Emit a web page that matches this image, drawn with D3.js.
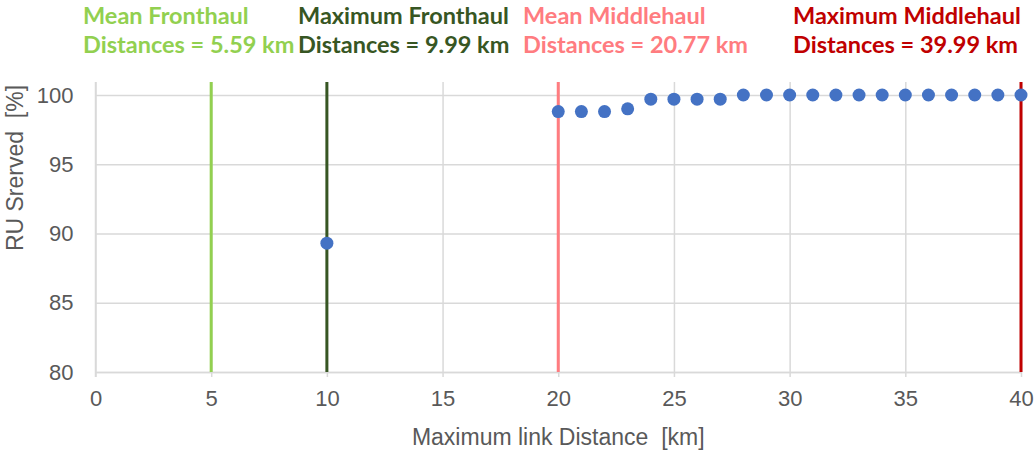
<!DOCTYPE html>
<html>
<head>
<meta charset="utf-8">
<script src="https://cdn.jsdelivr.net/npm/d3@7"></script>
<style>
  html, body { margin: 0; padding: 0; background: #ffffff; }
  svg { display: block; }
</style>
</head>
<body>
<svg id="chart" width="1034" height="450"></svg>
<script>
// ---- data ----
const xTicks = [0, 5, 10, 15, 20, 25, 30, 35, 40];
const yTicks = [80, 85, 90, 95, 100];
const distances = [10, 20, 21, 22, 23, 24, 25, 26, 27, 28, 29, 30, 31, 32, 33, 34, 35, 36, 37, 38, 39, 40];
const served = [89.3, 98.8, 98.8, 98.8, 99.0, 99.7, 99.7, 99.7, 99.7, 100, 100, 100, 100, 100, 100, 100, 100, 100, 100, 100, 100, 100];
const refX = [5, 10, 20, 40];
const refTitle = ["Mean Fronthaul", "Maximum Fronthaul", "Mean Middlehaul", "Maximum Middlehaul"];
const refValue = ["Distances = 5.59 km", "Distances = 9.99 km", "Distances = 20.77 km", "Distances = 39.99 km"];
const refColor = ["#92D050", "#375623", "#FF7C80", "#C00000"];
const xTitle = "Maximum link Distance  [km]";
const yTitle = "RU Srerved  [%]";

// ---- layout ----
const plotL = 95.5, plotR = 1021, plotT = 82, plotB = 372;
const labelLeft = [83, 298, 523, 793];

const svg = d3.select("#chart");
const x = d3.scaleLinear().domain([0, 40]).range([plotL, plotR]);
const y = d3.scaleLinear().domain([80, 100]).range([plotB, 95]);

const textColor = "#595959";
const gridColor = "#d9d9d9";

// vertical grid + x ticks
const gx = svg.append("g")
  .attr("transform", `translate(0,${plotB})`)
  .call(d3.axisBottom(x).tickValues(xTicks).tickSizeInner(-(plotB - plotT)).tickSizeOuter(0).tickPadding(18));
gx.select(".domain").attr("stroke", gridColor).attr("stroke-width", 1.5);
gx.selectAll(".tick line").attr("stroke", gridColor).attr("stroke-width", 1.5).attr("y1", 5);
gx.selectAll(".tick text")
  .attr("fill", textColor)
  .style("font-family", "'Liberation Sans', Arial, sans-serif")
  .style("font-size", "22px");

// horizontal grid + y ticks
const gy = svg.append("g")
  .attr("transform", `translate(${plotL},0)`)
  .call(d3.axisLeft(y).tickValues(yTicks).tickSizeInner(-(plotR - plotL)).tickSizeOuter(0).tickPadding(22));
gy.select(".domain").remove();
gy.selectAll(".tick line").attr("stroke", gridColor).attr("stroke-width", 1.5);
gy.selectAll(".tick text")
  .attr("fill", textColor)
  .style("font-family", "'Liberation Sans', Arial, sans-serif")
  .style("font-size", "22px");

// left axis line
svg.append("line")
  .attr("x1", plotL).attr("x2", plotL)
  .attr("y1", plotT).attr("y2", plotB + 5)
  .attr("stroke", gridColor).attr("stroke-width", 1.5);

// reference lines
svg.append("g").selectAll("line")
  .data(refX)
  .join("line")
  .attr("x1", d => x(d)).attr("x2", d => x(d))
  .attr("y1", plotT).attr("y2", plotB)
  .attr("stroke", (d, i) => refColor[i])
  .attr("stroke-width", 3);

// points
svg.append("g").selectAll("circle")
  .data(distances)
  .join("circle")
  .attr("cx", d => x(d))
  .attr("cy", (d, i) => y(served[i]))
  .attr("r", 6.5)
  .attr("fill", "#4472C4");

// reference labels
const lbl = svg.append("g")
  .style("font-family", "Lato, 'Open Sans', sans-serif")
  .style("font-weight", "bold")
  .style("font-size", "23.5px");
refTitle.forEach((t, i) => {
  lbl.append("text").attr("x", labelLeft[i]).attr("y", 24).attr("fill", refColor[i]).text(t);
  lbl.append("text").attr("x", labelLeft[i]).attr("y", 53).attr("fill", refColor[i]).text(refValue[i]);
});

// axis titles
svg.append("text")
  .attr("x", (plotL + plotR) / 2).attr("y", 445)
  .attr("text-anchor", "middle")
  .attr("fill", textColor)
  .style("white-space", "pre")
  .style("font-family", "'Liberation Sans', Arial, sans-serif")
  .style("font-size", "23px")
  .text(xTitle);

svg.append("text")
  .attr("transform", "translate(23,168) rotate(-90)")
  .attr("text-anchor", "middle")
  .attr("fill", textColor)
  .style("white-space", "pre")
  .style("font-family", "'Liberation Sans', Arial, sans-serif")
  .style("font-size", "23px")
  .text(yTitle);
</script>
</body>
</html>
